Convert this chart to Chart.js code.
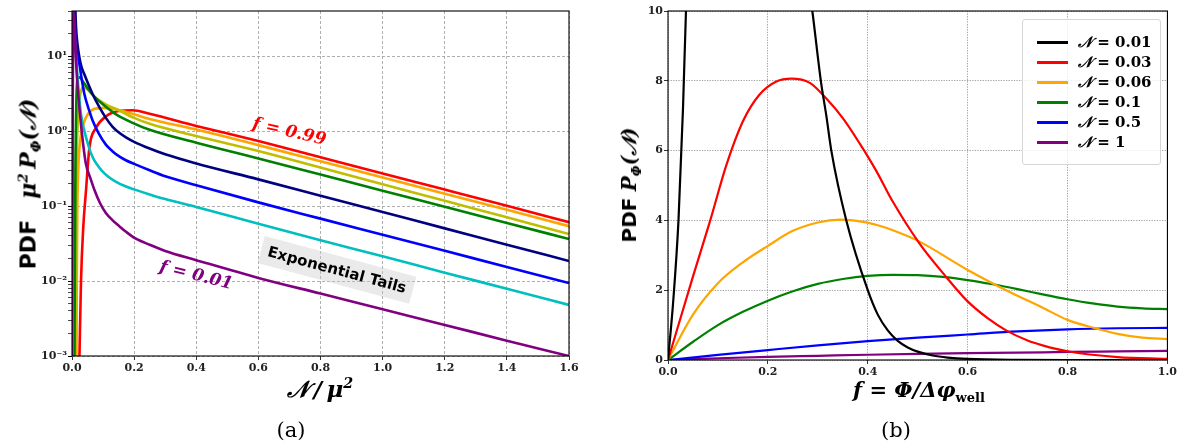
<!DOCTYPE html>
<html>
<head>
<meta charset="utf-8">
<script src="https://cdn.jsdelivr.net/npm/chart.js@4.4.1/dist/chart.umd.min.js"></script>
<style>
  html, body { margin: 0; padding: 0; background: #fff; }
  #page { position: relative; width: 1179px; height: 446px; overflow: hidden; font-family: 'DejaVu Serif', serif; color: #000; }
  canvas { position: absolute; top: 0; }
  .lbl { position: absolute; white-space: nowrap; transform: translate(-50%, -50%); line-height: 1; }
  .rot { transform: translate(-50%, -50%) rotate(-90deg); }
  .sans { font-family: 'DejaVu Sans', sans-serif; font-weight: bold; font-style: normal; }
  .m { font-style: italic; font-weight: bold; }
  sup, sub { font-size: 62%; line-height: 0; }
  #legend { position: absolute; left: 1022px; top: 19px; width: 139px; height: 146px; box-sizing: border-box;
            border: 1px solid #d6d6d6; border-radius: 3px; background: rgba(255,255,255,0.8); }
  #legend .row { position: absolute; left: 0; height: 20px; width: 100%; }
  #legend .swatch { position: absolute; left: 14px; top: 9px; width: 31px; height: 2.6px; }
  #legend .txt { position: absolute; left: 55px; top: 1px; font-size: 15px; font-weight: bold; }
</style>
</head>
<body>
<div id="page">
  <canvas id="tails" width="600" height="400" style="left:0"></canvas>
  <canvas id="shape" width="579" height="400" style="left:600px"></canvas>

  <div class="lbl rot" style="left:28px; top:184px; font-size:22px;">
    <span class="sans">PDF</span>&nbsp;&nbsp;&nbsp;<span class="m">μ<sup>2</sup>&thinsp;P<sub>Φ</sub>(𝒩)</span>
  </div>
  <div class="lbl" style="left:320px; top:389px; font-size:23px;"><span class="m">𝒩&thinsp;/&thinsp;μ<sup>2</sup></span></div>
  <div class="lbl" style="left:291px; top:430px; font-size:21px;">(a)</div>

  <div class="lbl rot" style="left:629px; top:185px; font-size:20px;">
    <span class="sans">PDF</span>&nbsp;<span class="m">P<sub>Φ</sub>(𝒩)</span>
  </div>
  <div class="lbl" style="left:919px; top:390px; font-size:21px;"><span class="m">f = Φ/Δφ<sub style="font-style:normal">well</sub></span></div>
  <div class="lbl" style="left:896px; top:430px; font-size:21px;">(b)</div>

  <div id="legend"></div>
</div>

<script>
// (a) scaled PDF against N/mu^2, one curve per f, from f = 0.01 (purple) up to f = 0.99 (red)
const nPurple = [0, 0.002, 0.005, 0.015, 0.025, 0.035, 0.045, 0.06, 0.072, 0.09, 0.109, 0.13, 0.152, 0.175, 0.204, 0.25, 0.3, 0.4, 0.6, 0.8, 1.0, 1.2, 1.4, 1.6];
const pPurple = [0.001, 1, 40, 6, 1.8, 0.72, 0.36, 0.23, 0.165, 0.11, 0.081, 0.065, 0.054, 0.045, 0.037, 0.0305, 0.0252, 0.019, 0.011, 0.0068, 0.0042, 0.0026, 0.0016, 0.001];

const nCyan = [0.001, 0.002, 0.004, 0.007, 0.013, 0.02, 0.029, 0.04, 0.05, 0.06, 0.07, 0.08, 0.095, 0.115, 0.142, 0.17, 0.2, 0.25, 0.3, 0.4, 0.6, 0.8, 1.0, 1.2, 1.4, 1.6];
const pCyan = [0.001, 1, 40, 22, 10, 4, 1.67, 1.0, 0.7, 0.52, 0.42, 0.36, 0.3, 0.25, 0.21, 0.185, 0.167, 0.143, 0.124, 0.097, 0.058, 0.035, 0.0214, 0.0129, 0.0079, 0.0048];

const nBlue = [0.006, 0.008, 0.012, 0.018, 0.024, 0.03, 0.04, 0.055, 0.067, 0.085, 0.109, 0.13, 0.152, 0.175, 0.2, 0.25, 0.3, 0.4, 0.6, 0.8, 1.0, 1.2, 1.4, 1.6];
const pBlue = [40, 28, 16, 10, 7.7, 5.3, 3.1, 1.9, 1.36, 0.95, 0.66, 0.54, 0.46, 0.405, 0.365, 0.3, 0.25, 0.19, 0.112, 0.068, 0.0415, 0.0253, 0.0154, 0.0094];

const nNavy = [0.011, 0.013, 0.018, 0.024, 0.03, 0.04, 0.055, 0.067, 0.085, 0.109, 0.13, 0.152, 0.175, 0.2, 0.25, 0.3, 0.4, 0.6, 0.8, 1.0, 1.2, 1.4, 1.6];
const pNavy = [40, 24, 14, 9.5, 7.3, 5.7, 4.0, 3.08, 2.2, 1.5, 1.15, 0.95, 0.82, 0.72, 0.585, 0.49, 0.37, 0.227, 0.1375, 0.0832, 0.0504, 0.0305, 0.0185];

const nGreen = [0.008, 0.009, 0.011, 0.014, 0.018, 0.025, 0.035, 0.045, 0.065, 0.088, 0.11, 0.142, 0.195, 0.25, 0.4, 0.6, 0.8, 1.0, 1.2, 1.4, 1.6];
const pGreen = [0.001, 0.01, 0.3, 2.5, 5.0, 5.2, 4.6, 4.0, 3.1, 2.5, 2.1, 1.67, 1.29, 1.04, 0.7, 0.432, 0.263, 0.16, 0.0977, 0.0596, 0.0363];

const nOlive = [0.011, 0.012, 0.014, 0.018, 0.025, 0.035, 0.05, 0.075, 0.11, 0.15, 0.2, 0.25, 0.4, 0.6, 0.8, 1.0, 1.2, 1.4, 1.6];
const pOlive = [0.001, 0.01, 0.2, 1.2, 2.8, 3.8, 3.6, 2.8, 2.26, 1.9, 1.5, 1.25, 0.86, 0.542, 0.326, 0.196, 0.1175, 0.0707, 0.0424];

const nOrange = [0.0145, 0.0155, 0.017, 0.02, 0.024, 0.03, 0.04, 0.067, 0.1, 0.142, 0.195, 0.25, 0.4, 0.6, 0.8, 1.0, 1.2, 1.4, 1.6];
const pOrange = [0.001, 0.01, 0.08, 0.3, 0.6, 0.95, 1.36, 1.94, 2.04, 1.94, 1.7, 1.45, 1.05, 0.65, 0.395, 0.24, 0.146, 0.089, 0.054];

const nRed = [0.024, 0.029, 0.036, 0.045, 0.056, 0.077, 0.11, 0.15, 0.195, 0.25, 0.4, 0.6, 0.8, 1.0, 1.2, 1.4, 1.6];
const pRed = [0.001, 0.01, 0.05, 0.16, 0.6, 1.1, 1.58, 1.85, 1.9, 1.7, 1.17, 0.736, 0.448, 0.272, 0.166, 0.101, 0.061];

const tailDecades = [-3, -2, -1, 0, 1];
const tailTop = 40;

// (b) PDF of the field position f for fixed N
const shapeN = ['0.01', '0.03', '0.06', '0.1', '0.5', '1'];
const shapeColors = ['#000000', '#ff0000', '#ffa500', '#008000', '#0000ff', '#800080'];

const fN001 = [0, 0.01, 0.021, 0.03, 0.036, 0.06, 0.1, 0.15, 0.2, 0.25, 0.289, 0.306, 0.317, 0.327, 0.357, 0.4, 0.42, 0.44, 0.46, 0.48, 0.5, 0.53, 0.56, 0.6, 0.7, 0.8, 1.0];
const pN001 = [0, 1.6, 4, 7.2, 10, 17, 21, 22, 19, 14, 10, 8, 7, 6, 4, 2, 1.3, 0.85, 0.55, 0.36, 0.24, 0.13, 0.07, 0.03, 0.004, 0, 0];

const fN003 = [0, 0.051, 0.084, 0.117, 0.15, 0.183, 0.217, 0.247, 0.284, 0.317, 0.35, 0.384, 0.417, 0.45, 0.503, 0.557, 0.6, 0.64, 0.677, 0.72, 0.75, 0.8, 0.9, 1.0];
const pN003 = [0, 2.44, 3.97, 5.59, 6.84, 7.6, 7.98, 8.06, 7.94, 7.49, 6.93, 6.2, 5.42, 4.54, 3.35, 2.38, 1.68, 1.2, 0.85, 0.56, 0.42, 0.25, 0.085, 0.03];

const fN006 = [0, 0.05, 0.1, 0.15, 0.2, 0.25, 0.3, 0.345, 0.39, 0.42, 0.45, 0.5, 0.6, 0.677, 0.75, 0.8, 0.85, 0.9, 0.95, 1.0];
const pN006 = [0, 1.3, 2.2, 2.8, 3.27, 3.7, 3.94, 4.02, 3.96, 3.86, 3.72, 3.42, 2.58, 2.0, 1.5, 1.15, 0.93, 0.75, 0.64, 0.6];

const fN01 = [0, 0.051, 0.1, 0.15, 0.2, 0.25, 0.3, 0.35, 0.4, 0.45, 0.5, 0.55, 0.6, 0.65, 0.7, 0.75, 0.8, 0.85, 0.9, 0.95, 1.0];
const pN01 = [0, 0.53, 1.0, 1.38, 1.7, 1.97, 2.18, 2.32, 2.41, 2.44, 2.43, 2.38, 2.29, 2.17, 2.03, 1.88, 1.74, 1.62, 1.53, 1.48, 1.46];

const fN05 = [0, 0.1, 0.2, 0.3, 0.4, 0.5, 0.6, 0.7, 0.8, 0.9, 1.0];
const pN05 = [0, 0.145, 0.285, 0.42, 0.54, 0.64, 0.73, 0.82, 0.88, 0.91, 0.92];

const fN1 = [0, 0.1, 0.2, 0.3, 0.4, 0.5, 0.6, 0.7, 0.8, 0.9, 1.0];
const pN1 = [0, 0.05, 0.09, 0.12, 0.15, 0.175, 0.195, 0.21, 0.23, 0.245, 0.26];

const tickFont = { family: 'DejaVu Serif', size: 11, weight: 'bold' };
const pairs = (xs, ys) => xs.map((v, i) => ({ x: v, y: ys[i] }));
const curve = (xs, ys, color, width) => ({
  data: pairs(xs, ys), borderColor: color, borderWidth: width,
  pointRadius: 0, fill: false, cubicInterpolationMode: 'monotone'
});

const SUP = { '-': '⁻', '0': '⁰', '1': '¹', '2': '²', '3': '³', '4': '⁴', '5': '⁵', '6': '⁶', '7': '⁷', '8': '⁸', '9': '⁹' };
const isDecade = v => Math.abs(Math.log10(v) - Math.round(Math.log10(v))) < 1e-9;

// log ticks: every k*10^n inside the range, labels only on the decades
const tailTicks = [];
tailDecades.forEach(d => {
  for (let k = 1; k <= 9; k++) {
    const v = k * Math.pow(10, d);
    if (v <= tailTop) tailTicks.push(+v.toPrecision(3));
  }
});

const frame = {
  id: 'frame',
  afterDraw(chart) {
    const a = chart.chartArea, ctx = chart.ctx;
    ctx.save();
    ctx.strokeStyle = '#000';
    ctx.lineWidth = 1.1;
    ctx.strokeRect(a.left, a.top, a.right - a.left, a.bottom - a.top);
    ctx.restore();
  }
};

const tailNotes = {
  id: 'tailNotes',
  afterDatasetsDraw(chart) {
    const { ctx, scales: { x, y } } = chart;
    const put = (text, xv, yv, deg, font, color, box) => {
      ctx.save();
      ctx.translate(x.getPixelForValue(xv), y.getPixelForValue(yv));
      ctx.rotate(deg * Math.PI / 180);
      ctx.font = font;
      ctx.textAlign = 'center';
      ctx.textBaseline = 'middle';
      if (box) {
        const w = ctx.measureText(text).width + 14;
        ctx.fillStyle = 'rgba(200,200,200,0.38)';
        ctx.fillRect(-w / 2, -14, w, 28);
      }
      ctx.fillStyle = color;
      ctx.fillText(text, 0, 1);
      ctx.restore();
    };
    put('f = 0.99', 0.70, 1.0, 13, 'italic bold 17px "DejaVu Serif"', '#ff0000');
    put('f = 0.01', 0.40, 0.0121, 14, 'italic bold 17px "DejaVu Serif"', '#800080');
    put('Exponential Tails', 0.853, 0.0141, 15, 'bold 15px "DejaVu Sans"', '#000', true);
  }
};

new Chart(document.getElementById('tails'), {
  type: 'line',
  data: {
    datasets: [
      curve(nPurple, pPurple, '#800080', 2.6),
      curve(nCyan, pCyan, '#00bfbf', 2.6),
      curve(nBlue, pBlue, '#0000ff', 2.6),
      curve(nNavy, pNavy, '#000080', 2.6),
      curve(nGreen, pGreen, '#008000', 2.6),
      curve(nOlive, pOlive, '#bfbf00', 2.6),
      curve(nOrange, pOrange, '#ffa500', 2.6),
      curve(nRed, pRed, '#ff0000', 2.6)
    ]
  },
  options: {
    responsive: false,
    animation: false,
    devicePixelRatio: 1,
    layout: { autoPadding: false, padding: { top: 11, right: 31, left: 0, bottom: 0 } },
    plugins: { legend: { display: false }, tooltip: { enabled: false } },
    scales: {
      x: {
        type: 'linear', min: 0, max: 1.6,
        afterFit: s => { s.height = 44; },
        ticks: { stepSize: 0.2, callback: v => v.toFixed(1), font: tickFont, color: '#222', padding: 2, maxRotation: 0, autoSkip: false },
        grid: { color: '#9c9c9c', lineWidth: 0.8, tickColor: '#000', tickLength: 4 },
        border: { display: false, dash: [3, 2] }
      },
      y: {
        type: 'logarithmic', min: 0.001, max: tailTop,
        afterFit: s => { s.width = 72; },
        afterBuildTicks: s => { s.ticks = tailTicks.map(v => ({ value: v })); },
        ticks: {
          autoSkip: false, font: tickFont, color: '#222', padding: 1,
          callback: v => isDecade(v) ? '10' + String(Math.round(Math.log10(v))).split('').map(c => SUP[c]).join('') : ''
        },
        grid: {
          color: c => (c.tick && isDecade(c.tick.value)) ? '#9c9c9c' : 'rgba(0,0,0,0)',
          lineWidth: 0.8, tickColor: '#000', tickLength: 4,
          tickWidth: c => (c.tick && isDecade(c.tick.value)) ? 1 : 0.7
        },
        border: { display: false, dash: [3, 2] }
      }
    }
  },
  plugins: [tailNotes, frame]
});

const shapeF = [fN001, fN003, fN006, fN01, fN05, fN1];
const shapeP = [pN001, pN003, pN006, pN01, pN05, pN1];

new Chart(document.getElementById('shape'), {
  type: 'line',
  data: { datasets: shapeN.map((n, i) => curve(shapeF[i], shapeP[i], shapeColors[i], 2.2)) },
  options: {
    responsive: false,
    animation: false,
    devicePixelRatio: 1,
    layout: { autoPadding: false, padding: { top: 11, right: 10, left: 0, bottom: 0 } },
    plugins: { legend: { display: false }, tooltip: { enabled: false } },
    scales: {
      x: {
        type: 'linear', min: 0, max: 1,
        afterFit: s => { s.height = 40; },
        ticks: { stepSize: 0.2, callback: v => v.toFixed(1), font: tickFont, color: '#222', padding: 2, maxRotation: 0, autoSkip: false },
        grid: { color: '#8a8a8a', lineWidth: 0.8, tickColor: '#000', tickLength: 4 },
        border: { display: false, dash: [1.3, 1.3] }
      },
      y: {
        type: 'linear', min: 0, max: 10,
        afterFit: s => { s.width = 68; },
        ticks: { stepSize: 2, font: tickFont, color: '#222', padding: 1, autoSkip: false },
        grid: { color: '#8a8a8a', lineWidth: 0.8, tickColor: '#000', tickLength: 4 },
        border: { display: false, dash: [1.3, 1.3] }
      }
    }
  },
  plugins: [frame]
});

// legend for (b), built from the same labels and colours
const legend = document.getElementById('legend');
shapeN.forEach((n, i) => {
  const row = document.createElement('div');
  row.className = 'row';
  row.style.top = (12 + i * 20) + 'px';
  row.innerHTML = '<div class="swatch" style="background:' + shapeColors[i] + '"></div>' +
    '<div class="txt"><i>𝒩</i> = ' + n + '</div>';
  legend.appendChild(row);
});
</script>
</body>
</html>
